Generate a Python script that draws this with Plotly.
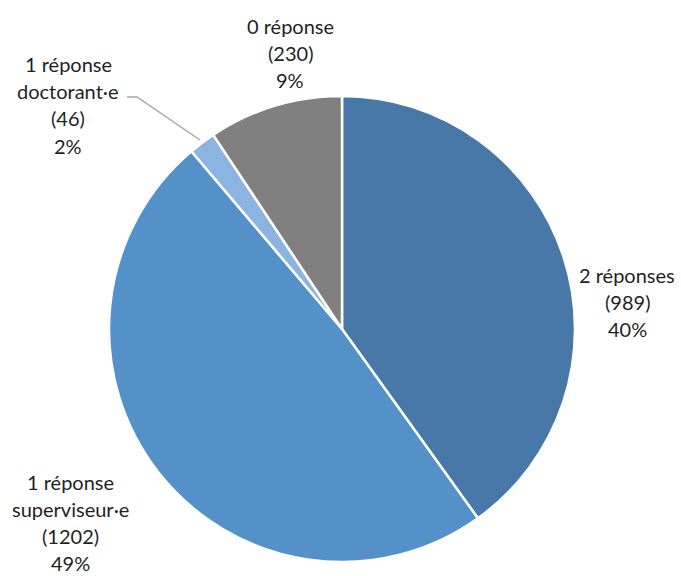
import plotly.graph_objects as go

categories = ["2 réponses", "1 réponse superviseur·e", "1 réponse doctorant·e", "0 réponse"]
label_lines = [["2 réponses"], ["1 réponse", "superviseur·e"], ["1 réponse", "doctorant·e"], ["0 réponse"]]
values = [989, 1202, 46, 230]
colors = ["#4878a8", "#5591c9", "#8cb4e2", "#808080"]

W, H = 681, 576
total = sum(values)

fig = go.Figure(go.Pie(
    labels=categories, values=values, sort=False, direction="clockwise", rotation=0,
    marker=dict(colors=colors, line=dict(color="white", width=2.5)),
    textinfo="none", hoverinfo="label+value+percent", showlegend=False,
    domain=dict(x=[(342 - 233) / W, (342 + 233) / W], y=[(H - 329 - 233) / H, (H - 329 + 233) / H]),
))

# label centres (pixels) for each category
label_pos = [(627, 302), (70, 522), (68, 105), (290, 53)]
spacing = 27
annotations = []
for lines, v, (cx, cy) in zip(label_lines, values, label_pos):
    all_lines = lines + [f"({v})", f"{round(100 * v / total)}%"]
    n = len(all_lines)
    for i, t in enumerate(all_lines):
        y = cy + (i - (n - 1) / 2) * spacing
        annotations.append(dict(
            x=cx / W, y=1 - y / H, xref="paper", yref="paper", text=t, showarrow=False,
            xanchor="center", yanchor="middle",
            font=dict(family="Lato, Open Sans, sans-serif", size=20, color="#1f1f1f"),
        ))

fig.update_layout(
    width=W, height=H, margin=dict(l=0, r=0, t=0, b=0),
    paper_bgcolor="white", plot_bgcolor="white",
    annotations=annotations,
    shapes=[dict(type="path", xref="paper", yref="paper",
                 path=f"M {127/W} {1-97/H} L {137/W} {1-97/H} L {200/W} {1-140/H}",
                 line=dict(color="#a6a6a6", width=1.5))],
)

fig.write_html("out.html", config={"displayModeBar": False},
               post_script="document.body.style.margin='0';document.body.style.overflow='hidden';")
